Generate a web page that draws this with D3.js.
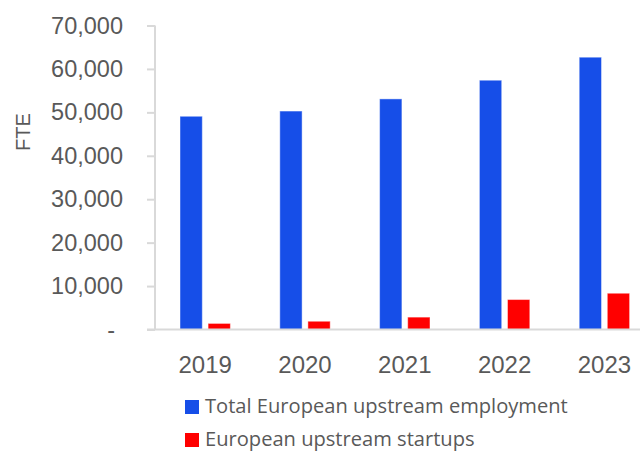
<!DOCTYPE html>
<html>
<head>
<meta charset="utf-8">
<script src="https://cdn.jsdelivr.net/npm/d3@7"></script>
<style>
  html, body { margin: 0; padding: 0; background: #fff; }
  svg { display: block; }
</style>
</head>
<body>
<svg id="chart" width="643" height="451"></svg>
<script>
// FTE employment, European upstream space sector
const years = ["2019", "2020", "2021", "2022", "2023"];
const seriesNames = ["Total European upstream employment", "European upstream startups"];
const totalEmployment = [49100, 50300, 53100, 57400, 62700];
const startups = [1400, 1900, 2850, 6900, 8350];
const yTicks = [0, 10000, 20000, 30000, 40000, 50000, 60000, 70000];
const colors = ["#164ee8", "#ff0000"];

const svg = d3.select("#chart");
const textColor = "#595959";
const axisColor = "#d9d9d9";

const y = d3.scaleLinear().domain([0, 70000]).range([329.5, 25.5]);

const x0 = d3.scaleBand().domain(years).range([130.6, 679]).paddingInner(0.495).paddingOuter(0.495);
const x1 = d3.scaleBand().domain(seriesNames).range([0, x0.bandwidth()]).paddingInner(0.206);

const rows = years.map((yr, i) => ({
  year: yr,
  values: [
    { key: seriesNames[0], value: totalEmployment[i] },
    { key: seriesNames[1], value: startups[i] }
  ]
}));

// Bars
const groups = svg.append("g").selectAll("g")
  .data(rows).join("g")
  .attr("transform", d => `translate(${x0(d.year)},0)`);

groups.selectAll("rect")
  .data(d => d.values).join("rect")
  .attr("x", d => x1(d.key))
  .attr("width", x1.bandwidth())
  .attr("y", d => y(d.value))
  .attr("height", d => y(0) - y(d.value))
  .attr("fill", (d, i) => colors[i])
  .attr("stroke", "#ffffff")
  .attr("stroke-opacity", 0.45)
  .attr("stroke-width", 1);

// Y axis
const yAxis = d3.axisLeft(y)
  .tickValues(yTicks)
  .tickSize(8)
  .tickPadding(24)
  .tickFormat(d => d === 0 ? "-" : d3.format(",")(d));

const yg = svg.append("g")
  .attr("transform", "translate(155,0)")
  .call(yAxis);
yg.select(".domain").attr("stroke", axisColor).attr("stroke-width", 2)
  .attr("d", `M0,${y(70000)}V${y(0)}`);
yg.selectAll(".tick line").attr("stroke", axisColor).attr("stroke-width", 2);
yg.selectAll(".tick text")
  .attr("fill", textColor)
  .style("font-family", "'Liberation Sans', Arial, sans-serif")
  .style("font-size", "23.5px");
yg.selectAll(".tick text").filter(d => d === 0).attr("dx", -8);

// X axis baseline
const xg = svg.append("g").attr("transform", `translate(0,${y(0)})`);
xg.append("line")
  .attr("x1", 147).attr("x2", 640)
  .attr("stroke", axisColor).attr("stroke-width", 2);
xg.selectAll("text")
  .data(years).join("text")
  .attr("x", d => x0(d) + x0.bandwidth() / 2)
  .attr("y", 43)
  .attr("text-anchor", "middle")
  .attr("fill", textColor)
  .style("font-family", "'Liberation Sans', Arial, sans-serif")
  .style("font-size", "24px")
  .text(d => d);

// Y axis title
svg.append("text")
  .attr("transform", "translate(30,132) rotate(-90)")
  .attr("text-anchor", "middle")
  .attr("fill", textColor)
  .style("font-family", "'Liberation Sans', Arial, sans-serif")
  .style("font-size", "20px")
  .text("FTE");

// Legend
const legend = svg.append("g");
const legendRows = legend.selectAll("g")
  .data(seriesNames).join("g")
  .attr("transform", (d, i) => `translate(185,${400 + i * 33})`);
legendRows.append("rect")
  .attr("width", 14).attr("height", 14)
  .attr("fill", (d, i) => colors[i]);
const legendText = legendRows.append("text")
  .attr("x", 20).attr("y", 12.5)
  .attr("fill", textColor)
  .style("font-family", "'Open Sans', 'Noto Sans', sans-serif")
  .style("font-size", "20px")
  .text(d => d);
// size the legend type so the longer entry spans its measured width
const firstLen = legendText.nodes()[0].getComputedTextLength();
const fitSize = 20 * 363 / firstLen;
legendText.style("font-size", fitSize + "px");
</script>
</body>
</html>
